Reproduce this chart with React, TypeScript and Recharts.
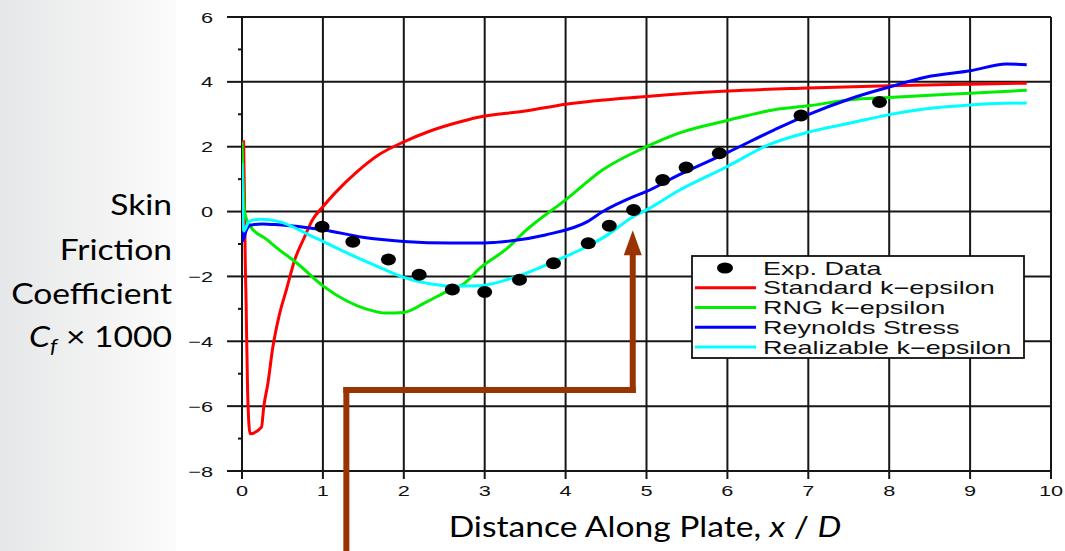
import React from "react"
import {
  ComposedChart,
  Line,
  Scatter,
  XAxis,
  YAxis,
  CartesianGrid,
  ReferenceLine,
  ReferenceDot,
} from "recharts"

// axis ticks
const xTicks = [0, 1, 2, 3, 4, 5, 6, 7, 8, 9, 10]
const yTicks = [-8, -7, -6, -5, -4, -3, -2, -1, 0, 1, 2, 3, 4, 5, 6]
const yGrid = [-8, -6, -4, -2, 0, 2, 4, 6]

// experimental points (x/D, Cf*1000)
const expData = [
  { x: 0.99, y: -0.47 },
  { x: 1.37, y: -0.93 },
  { x: 1.81, y: -1.48 },
  { x: 2.19, y: -1.95 },
  { x: 2.6, y: -2.4 },
  { x: 3.0, y: -2.48 },
  { x: 3.43, y: -2.1 },
  { x: 3.85, y: -1.59 },
  { x: 4.28, y: -0.98 },
  { x: 4.54, y: -0.44 },
  { x: 4.84, y: 0.05 },
  { x: 5.2, y: 0.97 },
  { x: 5.49, y: 1.36 },
  { x: 5.9, y: 1.8 },
  { x: 6.91, y: 2.96 },
  { x: 7.88, y: 3.38 },
]

const standardKE = [
  { x: 0.02, y: 2.2 },
  { x: 0.03, y: 0.5 },
  { x: 0.04, y: -1.5 },
  { x: 0.05, y: -2.7 },
  { x: 0.07, y: -5.6 },
  { x: 0.1, y: -6.85 },
  { x: 0.24, y: -6.65 },
  { x: 0.27, y: -6.0 },
  { x: 0.32, y: -5.3 },
  { x: 0.38, y: -4.2 },
  { x: 0.46, y: -3.2 },
  { x: 0.55, y: -2.4 },
  { x: 0.65, y: -1.5 },
  { x: 0.77, y: -0.8 },
  { x: 0.87, y: -0.26 },
  { x: 1.0, y: 0.15 },
  { x: 1.16, y: 0.6 },
  { x: 1.41, y: 1.2 },
  { x: 1.69, y: 1.75 },
  { x: 2.0, y: 2.15 },
  { x: 2.31, y: 2.47 },
  { x: 2.64, y: 2.73 },
  { x: 2.92, y: 2.91 },
  { x: 3.5, y: 3.1 },
  { x: 4.0, y: 3.31 },
  { x: 5.0, y: 3.55 },
  { x: 6.0, y: 3.72 },
  { x: 7.0, y: 3.81 },
  { x: 8.0, y: 3.88 },
  { x: 9.0, y: 3.93 },
  { x: 9.7, y: 3.96 },
]

const rngKE = [
  { x: 0.0, y: 2.15 },
  { x: 0.01, y: 1.2 },
  { x: 0.03, y: 0.0 },
  { x: 0.1, y: -0.45 },
  { x: 0.3, y: -0.85 },
  { x: 0.46, y: -1.18 },
  { x: 0.67, y: -1.57 },
  { x: 1.0, y: -2.29 },
  { x: 1.29, y: -2.75 },
  { x: 1.53, y: -3.0 },
  { x: 1.78, y: -3.13 },
  { x: 2.0, y: -3.11 },
  { x: 2.27, y: -2.8 },
  { x: 2.51, y: -2.49 },
  { x: 2.76, y: -2.19 },
  { x: 2.93, y: -1.77 },
  { x: 3.28, y: -1.13 },
  { x: 3.52, y: -0.56 },
  { x: 4.0, y: 0.36 },
  { x: 4.46, y: 1.29 },
  { x: 5.0, y: 2.0 },
  { x: 5.4, y: 2.42 },
  { x: 6.0, y: 2.81 },
  { x: 6.58, y: 3.14 },
  { x: 7.0, y: 3.26 },
  { x: 7.52, y: 3.45 },
  { x: 8.0, y: 3.52 },
  { x: 9.0, y: 3.65 },
  { x: 9.7, y: 3.74 },
]

const reynoldsStress = [
  { x: 0.0, y: 1.0 },
  { x: 0.01, y: -0.9 },
  { x: 0.05, y: -0.6 },
  { x: 0.1, y: -0.42 },
  { x: 0.25, y: -0.38 },
  { x: 0.46, y: -0.41 },
  { x: 1.0, y: -0.56 },
  { x: 1.49, y: -0.79 },
  { x: 2.0, y: -0.92 },
  { x: 2.58, y: -0.97 },
  { x: 3.0, y: -0.97 },
  { x: 3.14, y: -0.95 },
  { x: 3.75, y: -0.72 },
  { x: 4.27, y: -0.31 },
  { x: 4.46, y: 0.0 },
  { x: 4.84, y: 0.46 },
  { x: 5.0, y: 0.62 },
  { x: 5.4, y: 1.13 },
  { x: 6.0, y: 1.82 },
  { x: 6.58, y: 2.52 },
  { x: 7.0, y: 2.99 },
  { x: 7.52, y: 3.48 },
  { x: 8.0, y: 3.84 },
  { x: 8.46, y: 4.15 },
  { x: 9.0, y: 4.34 },
  { x: 9.45, y: 4.55 },
  { x: 9.7, y: 4.53 },
]

const realizableKE = [
  { x: 0.0, y: 1.5 },
  { x: 0.02, y: -0.6 },
  { x: 0.09, y: -0.3 },
  { x: 0.22, y: -0.24 },
  { x: 0.46, y: -0.31 },
  { x: 0.79, y: -0.67 },
  { x: 1.0, y: -0.92 },
  { x: 1.37, y: -1.36 },
  { x: 1.7, y: -1.72 },
  { x: 2.0, y: -2.03 },
  { x: 2.36, y: -2.24 },
  { x: 2.6, y: -2.3 },
  { x: 2.93, y: -2.29 },
  { x: 3.4, y: -2.0 },
  { x: 3.8, y: -1.6 },
  { x: 4.22, y: -1.13 },
  { x: 4.5, y: -0.75 },
  { x: 4.84, y: -0.15 },
  { x: 5.0, y: 0.05 },
  { x: 5.4, y: 0.65 },
  { x: 6.0, y: 1.39 },
  { x: 6.5, y: 2.05 },
  { x: 7.0, y: 2.45 },
  { x: 7.52, y: 2.73 },
  { x: 8.0, y: 2.99 },
  { x: 8.46, y: 3.17 },
  { x: 9.0, y: 3.29 },
  { x: 9.7, y: 3.35 },
]

const series = [
  { name: "Standard k\u2212epsilon", color: "#ff0000", data: standardKE },
  { name: "RNG k\u2212epsilon", color: "#00ee00", data: rngKE },
  { name: "Reynolds Stress", color: "#0000ff", data: reynoldsStress },
  { name: "Realizable k\u2212epsilon", color: "#00ffff", data: realizableKE },
]

// callout arrow, in data units
const arrowLeftX = 1.29
const arrowRightX = 4.83
const arrowBottomY = -10.6
const arrowElbowY = -5.5
const arrowHeadY = -1.35

const INK = "#161616"
const tickFont = "'Liberation Sans', Arial, sans-serif"
const slideFont = "Lato, 'Open Sans', sans-serif"
const BROWN = "#993300"

const fmt = (v: number) => String(v).replace("-", "\u2212")

function YTick(props: any) {
  const { x, y, payload } = props
  const v = payload.value
  const major = v % 2 === 0
  return (
    <g>
      <line x1={x - (major ? 15 : 4)} x2={x} y1={y} y2={y} stroke={INK} strokeWidth={2} />
      {major && (
        <text
          transform={`translate(${x - 29},${y + 5.5}) scale(1.45,1)`}
          textAnchor="end"
          fontFamily={tickFont}
          fontSize={15}
          fill="#111"
        >
          {fmt(v)}
        </text>
      )}
    </g>
  )
}

function XTick(props: any) {
  const { x, y, payload } = props
  return (
    <g>
      <line x1={x} x2={x} y1={y} y2={y + 8} stroke={INK} strokeWidth={2} />
      <text
        transform={`translate(${x},${y + 25}) scale(1.45,1)`}
        textAnchor="middle"
        fontFamily={tickFont}
        fontSize={15}
        fill="#111"
      >
        {fmt(payload.value)}
      </text>
    </g>
  )
}

function ExpDot(props: any) {
  const { cx, cy } = props
  return <ellipse cx={cx} cy={cy} rx={7.5} ry={6} fill="#000" />
}

function ArrowHead(props: any) {
  const { cx, cy } = props
  return <polygon points={`${cx - 9},${cy} ${cx + 9},${cy} ${cx},${cy - 25}`} fill={BROWN} />
}

function Legend() {
  const left = 692
  const top = 256
  const rows = [268, 287.7, 307.5, 327.2, 347]
  const textStyle = (y: number) => `translate(763,${y + 6.5}) scale(1.5,1)`
  return (
    <g>
      <rect x={left} y={top} width={332} height={102} fill="#fff" stroke="#111" strokeWidth={1.8} />
      <ellipse cx={725} cy={rows[0]} rx={8} ry={5.5} fill="#000" />
      <text transform={textStyle(rows[0])} fontFamily={tickFont} fontSize={18} fill="#111">
        Exp. Data
      </text>
      {series.map((s, i) => (
        <g key={s.name}>
          <line x1={695} x2={756} y1={rows[i + 1]} y2={rows[i + 1]} stroke={s.color} strokeWidth={3} />
          <text transform={textStyle(rows[i + 1])} fontFamily={tickFont} fontSize={18} fill="#111">
            {s.name}
          </text>
        </g>
      ))}
    </g>
  )
}

export default function App() {
  return (
    <div
      style={{
        position: "fixed",
        left: 0,
        top: 0,
        width: 1065,
        height: 551,
        overflow: "hidden",
        background: "#fff",
      }}
    >
      <div
        style={{
          position: "absolute",
          left: 0,
          top: 0,
          width: 176,
          height: 551,
          background: "linear-gradient(to right, #e6e7e8, #fbfbfb)",
        }}
      />
      <div style={{ position: "absolute", left: 0, top: 0 }}>
        <ComposedChart width={1065} height={551} margin={{ top: 17, right: 14, bottom: 0, left: 0 }}>
          <CartesianGrid stroke={INK} strokeWidth={2} horizontalValues={yGrid} verticalValues={xTicks} />
          <XAxis
            type="number"
            dataKey="x"
            domain={[0, 10]}
            ticks={xTicks}
            interval={0}
            height={80}
            tickSize={0}
            tickMargin={0}
            axisLine={false}
            tickLine={false}
            tick={(p: any) => <XTick {...p} />}
            allowDataOverflow
          />
          <YAxis
            type="number"
            dataKey="y"
            domain={[-8, 6]}
            ticks={yTicks}
            interval={0}
            width={242}
            tickSize={0}
            tickMargin={0}
            axisLine={false}
            tickLine={false}
            tick={(p: any) => <YTick {...p} />}
            allowDataOverflow
          />
          {series.map((s) => (
            <Line
              key={s.name}
              name={s.name}
              data={s.data}
              dataKey="y"
              type="monotone"
              stroke={s.color}
              strokeWidth={3}
              dot={false}
              activeDot={false}
              isAnimationActive={false}
            />
          ))}
          <Scatter name="Exp. Data" data={expData} dataKey="y" shape={(p: any) => <ExpDot {...p} />} isAnimationActive={false} />
          <ReferenceLine
            segment={[{ x: arrowLeftX, y: arrowBottomY }, { x: arrowLeftX, y: arrowElbowY }]}
            stroke={BROWN}
            strokeWidth={6}
            strokeLinecap="square"
            ifOverflow="visible"
          />
          <ReferenceLine
            segment={[{ x: arrowLeftX, y: arrowElbowY }, { x: arrowRightX, y: arrowElbowY }]}
            stroke={BROWN}
            strokeWidth={6}
            strokeLinecap="square"
            ifOverflow="visible"
          />
          <ReferenceLine
            segment={[{ x: arrowRightX, y: arrowElbowY }, { x: arrowRightX, y: arrowHeadY }]}
            stroke={BROWN}
            strokeWidth={6}
            strokeLinecap="square"
            ifOverflow="visible"
          />
          <ReferenceDot x={arrowRightX} y={arrowHeadY} ifOverflow="visible" shape={(p: any) => <ArrowHead {...p} />} />
        </ComposedChart>
      </div>
      <svg
        width={1065}
        height={551}
        style={{ position: "absolute", left: 0, top: 0, pointerEvents: "none" }}
      >
        <Legend />
        <g fontFamily={slideFont} fontSize={28} fill="#000" textAnchor="end">
          <text transform="translate(172,215) scale(1.2,1)">Skin</text>
          <text transform="translate(172,260) scale(1.2,1)">Friction</text>
          <text transform="translate(172,304) scale(1.2,1)">Coefficient</text>
          <text transform="translate(172,347) scale(1.2,1)">
            <tspan fontStyle="italic">C</tspan>
            <tspan fontStyle="italic" fontSize={19} dy={6}>f</tspan>
            <tspan dy={-6}> {"\u00d7"} 1000</tspan>
          </text>
        </g>
        <text
          transform="translate(645,537) scale(1.2,1)"
          fontFamily={slideFont}
          fontSize={28}
          fill="#000"
          textAnchor="middle"
        >
          Distance Along Plate, <tspan fontStyle="italic">x</tspan> / <tspan fontStyle="italic">D</tspan>
        </text>
      </svg>
    </div>
  )
}
